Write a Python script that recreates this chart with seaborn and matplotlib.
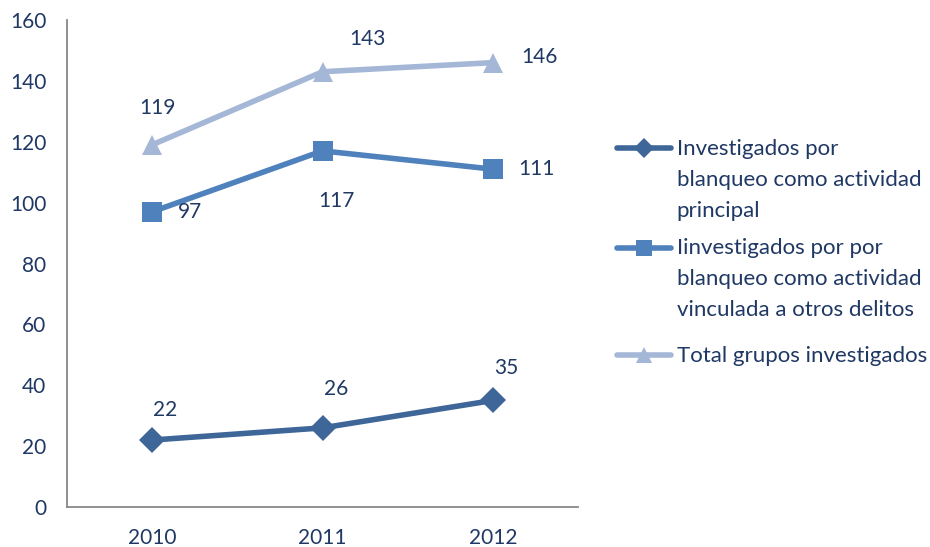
import matplotlib
matplotlib.use("Agg")
import matplotlib.pyplot as plt
import seaborn as sns
import pandas as pd

years = ["2010", "2011", "2012"]
series_names = [
    "Investigados por\nblanqueo como actividad\nprincipal",
    "Iinvestigados por por\nblanqueo como actividad\nvinculada a otros delitos",
    "Total grupos investigados",
]
principal = [22, 26, 35]
vinculada = [97, 117, 111]
total = [119, 143, 146]
y_ticks = [0, 20, 40, 60, 80, 100, 120, 140, 160]

colors = ["#3E6698", "#4F81BD", "#A5B7D7"]
markers = ["D", "s", "^"]
msizes = [13, 14, 15]
leg_msizes = [10, 11, 12]
text_color = "#1F3864"
# label offsets in pixels (dx, dy)
offsets = [
    [(13, 30), (14, 39), (13, 32)],
    [(38, 0), (14, -50), (44, 0)],
    [(5, 37), (45, 33), (47, 6)],
]

sns.set_style("white")
plt.rcParams["font.family"] = ["Lato", "DejaVu Sans"]

rows = []
for name, vals in zip(series_names, [principal, vinculada, total]):
    for yr, v in zip(years, vals):
        rows.append({"year": yr, "value": v, "series": name})
df = pd.DataFrame(rows)

fig = plt.figure(figsize=(9.3, 5.47), dpi=100)
ax = fig.add_axes([67 / 930, 1 - 507 / 547, (578 - 67) / 930, (507 - 20) / 547])

for name, vals, c, m, ms in zip(series_names, [principal, vinculada, total], colors, markers, msizes):
    sub = df[df["series"] == name]
    sns.lineplot(data=sub, x="year", y="value", ax=ax, color=c, marker=m,
                 markersize=ms, markeredgewidth=0, linewidth=4, label=name,
                 sort=False)

for vals, offs in zip([principal, vinculada, total], offsets):
    for i, (v, (dx, dy)) in enumerate(zip(vals, offs)):
        ax.annotate(str(v), (i, v), xytext=(dx, dy), textcoords="offset pixels",
                    ha="center", va="center", fontsize=15, color=text_color)

ax.set_xlim(-0.5, 2.5)
ax.set_ylim(0, 160)
ax.set_yticks(y_ticks)
ax.set_xlabel("")
ax.set_ylabel("")
ax.tick_params(axis="both", length=0, labelsize=15, labelcolor=text_color)
ax.tick_params(axis="y", pad=15)
ax.tick_params(axis="x", pad=15)
for s in ["top", "right"]:
    ax.spines[s].set_visible(False)
for s in ["left", "bottom"]:
    ax.spines[s].set_color("#888888")
    ax.spines[s].set_linewidth(1.3)

handles, labels = ax.get_legend_handles_labels()


def make_legend(hs, ls, top_px, sizes):
    lg = ax.legend(hs, ls, loc="upper left",
                   bbox_to_anchor=(617 / 930, 1 - top_px / 547), bbox_transform=fig.transFigure,
                   frameon=False, fontsize=16, labelcolor=text_color,
                   handlelength=2.45, handletextpad=0.23, labelspacing=0.75,
                   borderpad=0, borderaxespad=0, handleheight=1.2)
    for t in lg.get_texts():
        t.set_linespacing(1.7)
    for h, ms in zip(lg.legend_handles, sizes):
        h.set_markersize(ms)
    for col in lg._legend_handle_box.get_children():
        for item in col.get_children():
            item.align = "top"
    return lg


leg1 = make_legend(handles[:2], labels[:2], 139, leg_msizes[:2])
ax.add_artist(leg1)
leg2 = make_legend(handles[2:], labels[2:], 346, leg_msizes[2:])

fig.savefig("out.png", dpi=100)
